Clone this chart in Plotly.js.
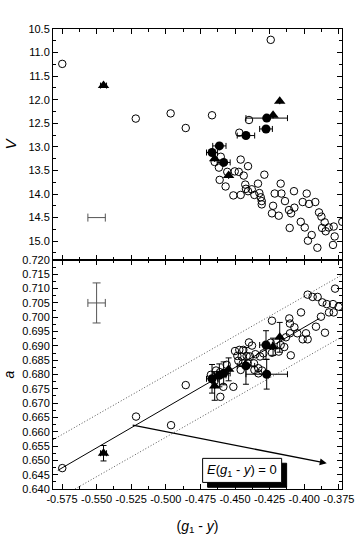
<!DOCTYPE html>
<html>
<head>
<meta charset="utf-8">
<script src="https://cdn.plot.ly/plotly-3.0.1.min.js"></script>
<style>
  body { margin: 0; background: #fff; }
  #plot { width: 360px; height: 545px; }
</style>
</head>
<body>
<div id="plot"></div>
<script>
// x axis ticks
var xTickVals = [-0.575, -0.55, -0.525, -0.5, -0.475, -0.45, -0.425, -0.4, -0.375];
var xTickText = ['-0.575', '-0.550', '-0.525', '-0.500', '-0.475', '-0.450', '-0.425', '-0.400', '-0.375'];

// field stars, top panel (V)
var openTopX = [-0.5748, -0.5217, -0.4965, -0.4242, -0.4399, -0.4666, -0.4856, -0.4469, -0.4603, -0.4647,
  -0.4616, -0.4556, -0.4459, -0.4406, -0.4502, -0.4473, -0.4437, -0.4611, -0.4568, -0.4426,
  -0.4421, -0.4379, -0.4406, -0.4334, -0.4288, -0.4512, -0.4459, -0.4360, -0.4324, -0.4314,
  -0.4307, -0.4307, -0.4170, -0.4213, -0.4165, -0.4074, -0.3982, -0.4225, -0.4233, -0.4184,
  -0.4139, -0.4110, -0.4095, -0.4071, -0.4011, -0.3965, -0.3920, -0.3893, -0.3876, -0.3852,
  -0.3845, -0.3871, -0.3823, -0.3787, -0.3725, -0.3780, -0.3792, -0.4025, -0.3996, -0.4105,
  -0.3946, -0.3973, -0.3905];
var openTopV = [11.24, 12.40, 12.29, 10.73, 12.43, 12.33, 12.60, 12.70, 13.21, 13.32,
  13.44, 13.53, 13.27, 13.41, 13.52, 13.53, 13.61, 13.70, 13.84, 13.80,
  13.89, 13.90, 13.94, 13.78, 13.59, 14.03, 14.02, 14.02, 13.98, 14.07,
  14.15, 14.22, 13.78, 13.99, 13.99, 13.94, 13.99, 14.25, 14.41, 14.46,
  14.15, 14.34, 14.41, 14.29, 14.17, 14.21, 14.17, 14.39, 14.48, 14.60,
  14.79, 14.72, 14.71, 14.69, 14.59, 14.90, 15.08, 14.59, 14.71, 14.72,
  14.87, 14.99, 15.14];

// field stars, bottom panel (a)
var openBotX = [-0.5748, -0.5215, -0.4962, -0.4856, -0.3975, -0.3939, -0.3903, -0.3777, -0.3869, -0.3837,
  -0.3792, -0.3821, -0.3787, -0.3751, -0.3879, -0.4023, -0.4233, -0.4108, -0.4103, -0.4071,
  -0.4050, -0.4103, -0.4132, -0.3987, -0.3975, -0.4011, -0.3915, -0.3850, -0.4242, -0.4500,
  -0.4469, -0.4440, -0.4377, -0.4483, -0.4452, -0.4416, -0.4392, -0.4353, -0.4319, -0.4295,
  -0.4476, -0.4444, -0.4408, -0.4363, -0.4332, -0.4459, -0.4360, -0.4331, -0.4305, -0.4608,
  -0.4637, -0.4674, -0.4584, -0.4512, -0.4606, -0.4647, -0.4560, -0.4399, -0.4233, -0.4184,
  -0.4144, -0.4097, -0.4170];
var openBotA = [0.6473, 0.6653, 0.6623, 0.6763, 0.7079, 0.7071, 0.7071, 0.7100, 0.7052, 0.7046,
  0.7046, 0.7017, 0.7017, 0.7037, 0.7002, 0.7017, 0.6988, 0.6996, 0.6978, 0.6965,
  0.6944, 0.6944, 0.6930, 0.6944, 0.6923, 0.6923, 0.6967, 0.6946, 0.6911, 0.6882,
  0.6886, 0.6886, 0.6901, 0.6865, 0.6863, 0.6865, 0.6863, 0.6871, 0.6863, 0.6874,
  0.6848, 0.6839, 0.6839, 0.6839, 0.6822, 0.6816, 0.6816, 0.6804, 0.6814, 0.6808,
  0.6814, 0.6799, 0.6757, 0.6757, 0.6722, 0.6778, 0.6834, 0.6912, 0.6876, 0.6880,
  0.6896, 0.6867, 0.6903];

// filled circles
var circX = [-0.4271, -0.4276, -0.4421, -0.4613, -0.4666, -0.4582];
var circXErr = [0.015, 0.0046, 0.0063, 0.0048, 0.004, 0.0047];
var circV = [12.39, 12.62, 12.76, 12.98, 13.12, 13.33];
var circA = [0.6801, 0.6903, 0.6830, 0.6797, 0.6785, 0.6804];
var circAErr = [0.0052, 0.005, 0.0064, 0.004, 0.005, 0.004];

// filled triangles
var triX = [-0.545, -0.4177, -0.4225, -0.4647, -0.4546];
var triXErr = [0.0022, 0, 0, 0, 0];
var triV = [11.70, 12.03, 12.33, 13.25, 13.61];
var triA = [0.6525, 0.6930, 0.6897, 0.6760, 0.6818];
var triAErr = [0.0027, 0.0052, 0.003, 0.005, 0.004];

// typical error bars
var sampleX = [-0.550];
var sampleXErr = [0.0063];
var sampleV = [14.5];
var sampleA = [0.705];
var sampleAErr = [0.007];

// fitted relation and its limits
var fitX = [-0.578, -0.389];
var fitA = [0.6465, 0.6996];
var upX = [-0.5815, -0.3727];
var upA = [0.6572, 0.7148];
var lowX = [-0.5656, -0.3727];
var lowA = [0.6400, 0.6932];

// reddening vector
var arrowX = [-0.525, -0.3837];
var arrowA = [0.6624, 0.6490];

var fnt = 'Liberation Sans, Arial, sans-serif';
var openMarker = {symbol: 'circle-open', size: 7.5, color: 'black', line: {width: 1, color: 'black'}};
var circMarker = {symbol: 'circle', size: 9, color: 'black'};
var triMarker = {symbol: 'triangle-up', size: 10, color: 'black'};

var data = [
  {x: openTopX, y: openTopV, xaxis: 'x2', yaxis: 'y2', mode: 'markers', marker: openMarker},
  {x: circX, y: circV, xaxis: 'x2', yaxis: 'y2', mode: 'markers', marker: circMarker,
    error_x: {type: 'data', array: circXErr, color: 'black', thickness: 1, width: 3}},
  {x: triX, y: triV, xaxis: 'x2', yaxis: 'y2', mode: 'markers', marker: triMarker,
    error_x: {type: 'data', array: triXErr, color: 'black', thickness: 1, width: 3}},
  {x: sampleX, y: sampleV, xaxis: 'x2', yaxis: 'y2', mode: 'markers', marker: {size: 1, color: 'rgba(0,0,0,0)'},
    error_x: {type: 'data', array: sampleXErr, color: '#555', thickness: 1, width: 4}},

  {x: upX, y: upA, mode: 'lines', line: {color: '#555', width: 1, dash: '1px,2px'}},
  {x: lowX, y: lowA, mode: 'lines', line: {color: '#555', width: 1, dash: '1px,2px'}},
  {x: fitX, y: fitA, mode: 'lines', line: {color: 'black', width: 1}},
  {x: openBotX, y: openBotA, mode: 'markers', marker: openMarker},
  {x: circX, y: circA, mode: 'markers', marker: circMarker,
    error_x: {type: 'data', array: circXErr, color: 'black', thickness: 1, width: 3},
    error_y: {type: 'data', array: circAErr, color: 'black', thickness: 1, width: 3}},
  {x: triX, y: triA, mode: 'markers', marker: triMarker,
    error_x: {type: 'data', array: triXErr, color: 'black', thickness: 1, width: 3},
    error_y: {type: 'data', array: triAErr, color: 'black', thickness: 1, width: 3}},
  {x: sampleX, y: sampleA, mode: 'markers', marker: {size: 1, color: 'rgba(0,0,0,0)'},
    error_x: {type: 'data', array: sampleXErr, color: '#555', thickness: 1, width: 4},
    error_y: {type: 'data', array: sampleAErr, color: '#555', thickness: 1, width: 4}}
];

var axBase = {
  showline: true, linecolor: 'black', linewidth: 1, mirror: 'ticks',
  ticks: 'inside', ticklen: 5, tickwidth: 1, tickcolor: 'black',
  showgrid: false, zeroline: false,
  tickfont: {family: fnt, size: 11, color: 'black'}
};

var layout = {
  width: 360, height: 545,
  margin: {l: 53, r: 18, t: 29, b: 56},
  paper_bgcolor: 'white', plot_bgcolor: 'white',
  showlegend: false,
  font: {family: fnt, color: 'black'},
  xaxis: Object.assign({}, axBase, {
    domain: [0, 1], anchor: 'y', range: [-0.5815, -0.3727],
    tickmode: 'array', tickvals: xTickVals, ticktext: xTickText, tickangle: 0,
    minor: {tickmode: 'linear', tick0: -0.5625, dtick: 0.025, ticks: 'inside', ticklen: 3, tickcolor: 'black'},
    title: {text: '(<i>g</i><sub>1</sub> - <i>y</i>)', font: {family: fnt, size: 14}, standoff: 16}
  }),
  xaxis2: Object.assign({}, axBase, {
    domain: [0, 1], anchor: 'y2', matches: 'x', showticklabels: false,
    tickmode: 'array', tickvals: xTickVals,
    minor: {tickmode: 'linear', tick0: -0.5625, dtick: 0.025, ticks: 'inside', ticklen: 3, tickcolor: 'black'}
  }),
  yaxis: Object.assign({}, axBase, {
    domain: [0, 0.4978], anchor: 'x', range: [0.640, 0.720],
    dtick: 0.005, tick0: 0.64, tickformat: '.3f',
    minor: {dtick: 0.0025, ticks: 'inside', ticklen: 3, tickcolor: 'black'},
    title: {text: '<i>a</i>', font: {family: fnt, size: 14}, standoff: 4}
  }),
  yaxis2: Object.assign({}, axBase, {
    domain: [0.4978, 1], anchor: 'x2', range: [15.4, 10.5],
    dtick: 0.5, tick0: 10.5, tickformat: '.1f',
    minor: {dtick: 0.25, ticks: 'inside', ticklen: 3, tickcolor: 'black'},
    title: {text: '<i>V</i>', font: {family: fnt, size: 15}, standoff: 8}
  }),
  shapes: [
    {type: 'rect', xref: 'x', yref: 'y', x0: -0.4698, x1: -0.4127, y0: 0.6406, y1: 0.6490,
      fillcolor: 'black', line: {color: 'black', width: 1}},
    {type: 'rect', xref: 'x', yref: 'y', x0: -0.4734, x1: -0.4163, y0: 0.6423, y1: 0.6507,
      fillcolor: 'white', line: {color: 'black', width: 1}}
  ],
  annotations: [
    {xref: 'x', yref: 'y', axref: 'x', ayref: 'y',
      x: arrowX[1], y: arrowA[1], ax: arrowX[0], ay: arrowA[0],
      text: '', showarrow: true, arrowhead: 2, arrowsize: 1, arrowwidth: 1.4, arrowcolor: 'black'},
    {xref: 'x', yref: 'y', x: -0.4448, y: 0.6465, showarrow: false,
      text: '<i>E</i>(<i>g</i><sub>1</sub> - <i>y</i>) = 0',
      font: {family: fnt, size: 13, color: 'black'}}
  ]
};

Plotly.newPlot('plot', data, layout, {displayModeBar: false, staticPlot: true});
</script>
</body>
</html>
